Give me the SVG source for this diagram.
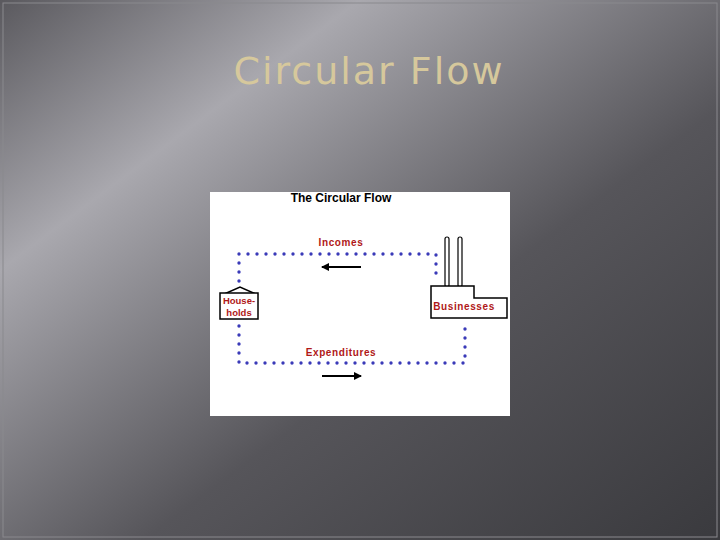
<svg xmlns="http://www.w3.org/2000/svg" width="720" height="540" viewBox="0 0 720 540">
<defs>
<linearGradient id="bg" x1="0" y1="0" x2="1" y2="1">
<stop offset="0" stop-color="#5a595e"/>
<stop offset="0.25" stop-color="#a9a8ae"/>
<stop offset="0.6" stop-color="#56555a"/>
<stop offset="1" stop-color="#3a3a3e"/>
</linearGradient>
<marker id="ah" markerWidth="8" markerHeight="8" refX="7" refY="4" orient="auto" markerUnits="userSpaceOnUse"><path d="M0,0 L8,4 L0,8 z" fill="#000"/></marker>
<style>
.dot{stroke:#3a3ab8;stroke-width:3.4;stroke-dasharray:0 9;stroke-linecap:round;fill:none}
.lbl{font-family:"Liberation Sans",Arial,sans-serif;font-size:10px;font-weight:bold;letter-spacing:0.6px;fill:#b01818;text-anchor:middle}
.sm{letter-spacing:0;font-size:9.5px}
.box{fill:#fff;stroke:#000;stroke-width:1.5}
</style>
</defs>
<rect width="720" height="540" fill="url(#bg)"/>
<rect x="3" y="3" width="714" height="534" fill="none" stroke="#8a898e" stroke-width="1"/>
<text x="369" y="84" font-family="DejaVu Sans, sans-serif" font-size="38" letter-spacing="2" fill="#d6c89c" text-anchor="middle">Circular Flow</text>
<rect x="210" y="192" width="300" height="224" fill="#fff"/>
<text x="341" y="202" font-family="Liberation Sans, Arial, sans-serif" font-size="12" font-weight="bold" text-anchor="middle" fill="#000">The Circular Flow</text>
<g id="connectors">
<path class="dot" d="M239,281 V254 H436 V281"/>
<path class="dot" d="M239,326 V363 H465 V326"/>
<line x1="361" y1="267" x2="322" y2="267" stroke="#000" stroke-width="2" marker-end="url(#ah)"/>
<line x1="322" y1="376" x2="361" y2="376" stroke="#000" stroke-width="2" marker-end="url(#ah)"/>
<text class="lbl" x="341" y="246">Incomes</text>
<text class="lbl" x="341" y="356">Expenditures</text>
</g>
<g id="households">
<path class="box" d="M222,295 L240,287 L258,295 z"/>
<rect class="box" x="220" y="293" width="38" height="26"/>
<text class="lbl sm" x="239" y="304">House-</text>
<text class="lbl sm" x="239" y="316">holds</text>
</g>
<g id="businesses">
<rect x="445" y="237" width="4" height="50" rx="2" fill="#fff" stroke="#000" stroke-width="1.2"/>
<rect x="458" y="237" width="4" height="50" rx="2" fill="#fff" stroke="#000" stroke-width="1.2"/>
<path class="box" d="M431,286 H474 V298 H507 V318 H431 z"/>
<text class="lbl" x="464" y="310">Businesses</text>
</g>
</svg>
